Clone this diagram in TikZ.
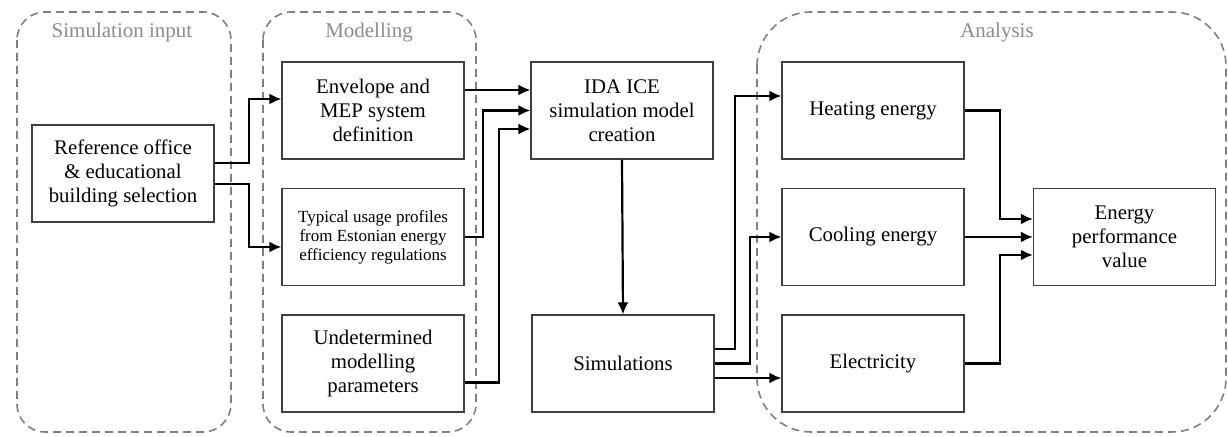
\documentclass[tikz,border=0pt]{standalone}
\usepackage{fontspec}
\setmainfont{Liberation Serif}
\usetikzlibrary{arrows.meta}

\begin{document}
\begin{tikzpicture}[x=0.5pt, y=-0.5pt,
  box/.style={draw=black!75, line width=0.6pt, minimum width=91pt, minimum height=48.5pt,
    align=center, inner sep=2pt, font=\fontsize{10.4}{12}\selectfont},
  group/.style={draw=black!50, line width=0.8pt, dash pattern=on 4pt off 2.5pt},
  grouptitle/.style={text=black!45, font=\fontsize{10.5}{12}\selectfont},
  flow/.style={-{Latex[length=6pt,width=5.5pt]}, line width=1.1pt}]
\useasboundingbox (0,0) rectangle (1228,437);

% Dashed stage frames
\draw[group, rounded corners=14pt] (17,12) rectangle (231,432);
\draw[group, rounded corners=14pt] (263,12) rectangle (476,432);
\draw[group, rounded corners=27pt] (757,12) rectangle (1226,432);
\node[grouptitle] (ttlin) at (122,32) {Simulation input};
\node[grouptitle] (ttlmod) at (369,32) {Modelling};
\node[grouptitle] (ttlana) at (997,32) {Analysis};

% Input
\node[box] (ref) at (123,173.5) {Reference office\\ \& educational\\ building selection};

% Modelling
\node[box] (env) at (373,110.5) {Envelope and\\ MEP system\\ definition};
\node[box, font=\fontsize{8.5}{9.5}\selectfont] (usage) at (373,237)
  {Typical usage profiles\\ from Estonian energy\\ efficiency regulations};
\node[box] (undet) at (373,363.5) {Undetermined\\ modelling\\ parameters};

% Model and simulation
\node[box] (ida) at (622,110.5) {IDA ICE\\ simulation model\\ creation};
\node[box] (sims) at (623,363.5) {Simulations};

% Analysis
\node[box] (heat) at (873,110.5) {Heating energy};
\node[box] (cool) at (873,237) {Cooling energy};
\node[box] (elec) at (873,363.5) {Electricity};
\node[box] (epv) at (1124.5,237) {Energy\\ performance\\ value};

% Connectors
\draw[flow] ([yshift=5.25pt]ref.east) -- ++(17pt,0) |- ([yshift=5.75pt]env.west);
\draw[flow] ([yshift=-5.25pt]ref.east) -- ++(17pt,0) |- ([yshift=-5pt]usage.west);

\draw[flow] ([yshift=10.25pt]env.east) -- ([yshift=10.25pt]ida.west);
\draw[flow] (usage.east) -- ++(9pt,0) |- (ida.west);
\draw[flow] ([yshift=-9.5pt]undet.east) -- ++(17pt,0) |- ([yshift=-9.25pt]ida.west);
\draw[flow] (ida.south) -- (sims.north);

\draw[flow] ([yshift=7.25pt]sims.east) -- ++(10pt,0) |- ([yshift=7.25pt]heat.west);
\draw[flow] (sims.east) -- ++(17.5pt,0) |- (cool.west);
\draw[flow] ([yshift=-7.25pt]sims.east) -- ([yshift=-7.25pt]elec.west);

\draw[flow] (heat.east) -- ++(17.5pt,0) |- ([yshift=9pt]epv.west);
\draw[flow] (cool.east) -- (epv.west);
\draw[flow] (elec.east) -- ++(17.5pt,0) |- ([yshift=-9pt]epv.west);
\end{tikzpicture}
\end{document}
